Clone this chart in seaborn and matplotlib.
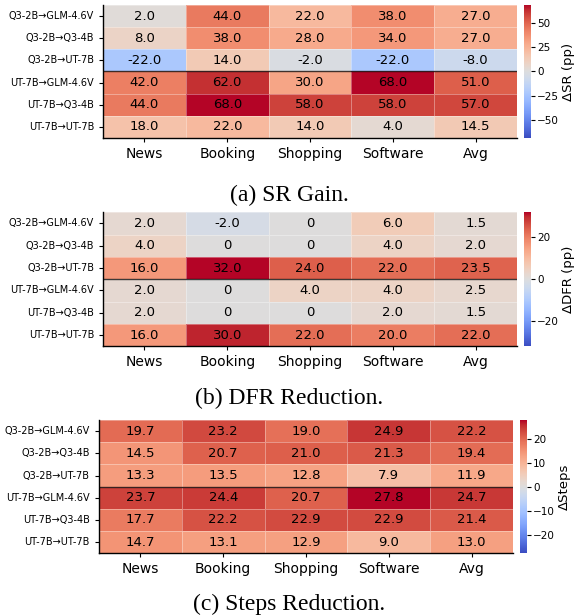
import numpy as np
import pandas as pd
import seaborn as sns
from matplotlib import pyplot as plt

rows = ['Q3-2B→GLM-4.6V', 'Q3-2B→Q3-4B', 'Q3-2B→UT-7B',
        'UT-7B→GLM-4.6V', 'UT-7B→Q3-4B', 'UT-7B→UT-7B']
cols = ['News', 'Booking', 'Shopping', 'Software', 'Avg']

sr_gain = [[2.0, 44.0, 22.0, 38.0, 27.0],
           [8.0, 38.0, 28.0, 34.0, 27.0],
           [-22.0, 14.0, -2.0, -22.0, -8.0],
           [42.0, 62.0, 30.0, 68.0, 51.0],
           [44.0, 68.0, 58.0, 58.0, 57.0],
           [18.0, 22.0, 14.0, 4.0, 14.5]]

dfr_reduction = [[2.0, -2.0, 0.0, 6.0, 1.5],
                 [4.0, 0.0, 0.0, 4.0, 2.0],
                 [16.0, 32.0, 24.0, 22.0, 23.5],
                 [2.0, 0.0, 4.0, 4.0, 2.5],
                 [2.0, 0.0, 0.0, 2.0, 1.5],
                 [16.0, 30.0, 22.0, 20.0, 22.0]]

steps_reduction = [[19.7, 23.2, 19.0, 24.9, 22.2],
                   [14.5, 20.7, 21.0, 21.3, 19.4],
                   [13.3, 13.5, 12.8, 7.9, 11.9],
                   [23.7, 24.4, 20.7, 27.8, 24.7],
                   [17.7, 22.2, 22.9, 22.9, 21.4],
                   [14.7, 13.1, 12.9, 9.0, 13.0]]

panels = [
    (sr_gain, 'ΔSR (pp)', '(a) SR Gain.'),
    (dfr_reduction, 'ΔDFR (pp)', '(b) DFR Reduction.'),
    (steps_reduction, 'ΔSteps', '(c) Steps Reduction.'),
]

# [left, bottom, width, height] for heatmap / colorbar, caption baseline y
layout = [
    ([0.178, 0.776, 0.715, 0.216], [0.905, 0.776, 0.012, 0.216], 0.673),
    ([0.178, 0.438, 0.715, 0.2175], [0.905, 0.438, 0.012, 0.2175], 0.344),
    ([0.171, 0.102, 0.715, 0.216], [0.898, 0.102, 0.012, 0.216], 0.010),
]

fig = plt.figure(figsize=(5.79, 6.16), dpi=100)

for (values, cbar_label, caption), (ax_pos, cax_pos, cap_y) in zip(panels, layout):
    df = pd.DataFrame(values, index=rows, columns=cols)
    labels = df.map(lambda v: '0' if v == 0 else f'{v:.1f}')
    vmax = np.abs(df.values).max()
    ax = fig.add_axes(ax_pos)
    cax = fig.add_axes(cax_pos)
    sns.heatmap(df, ax=ax, cbar_ax=cax, cmap='coolwarm', vmin=-vmax, vmax=vmax,
                annot=labels, fmt='', annot_kws={'size': 9.5, 'color': 'black'},
                linewidths=0.4, linecolor=(1, 1, 1, 0.35))
    ax.axhline(3, color='black', lw=1.0, alpha=0.75)
    for side in ['left', 'bottom']:
        ax.spines[side].set_visible(True)
        ax.spines[side].set_color('black')
        ax.spines[side].set_linewidth(1.0)
    ax.tick_params(axis='y', labelsize=7, length=3, rotation=0)
    ax.tick_params(axis='x', labelsize=10, length=3, rotation=0)
    ax.set_xlabel('')
    ax.set_ylabel('')
    cax.tick_params(labelsize=7.5, length=3, pad=1.5)
    cax.set_ylabel(cbar_label, fontsize=9.5, labelpad=2)
    fig.text(0.5, cap_y, caption, ha='center', va='baseline',
             family='Liberation Serif', fontsize=17)

plt.savefig('out.png', dpi=100)
